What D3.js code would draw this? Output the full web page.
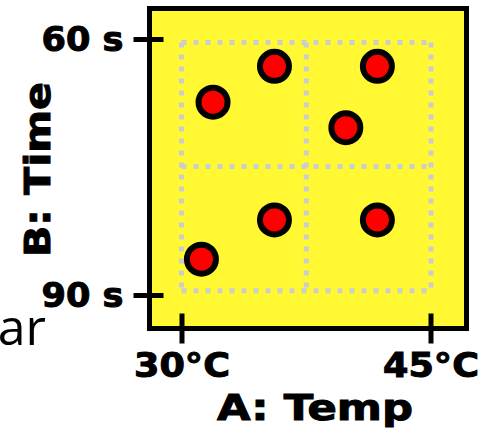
<!DOCTYPE html>
<html>
<head>
<meta charset="utf-8">
<script src="https://cdn.jsdelivr.net/npm/d3@7"></script>
<style>
  body { margin: 0; background: #fff; }
  svg { display: block; }
  .lbl { font-family: "DejaVu Sans", sans-serif; font-weight: bold; fill: #000; stroke: #000; stroke-width: 1px; }
</style>
</head>
<body>
<div id="chart"></div>
<script>
// factor levels and axis labels
const tempLevels = [30, 45];
const tempLabels = ["30°C", "45°C"];
const timeLevels = [60, 90];
const timeLabels = ["60 s", "90 s"];
// coded design grid (-1, 0, +1)
const gridCoded = [-1, 0, 1];
// experimental runs
const runTemp = [31.9, 35.6, 41.8, 39.9, 35.6, 41.8, 31.2];
const runTime = [67.4, 63.2, 63.2, 70.4, 81.2, 81.2, 85.8];

const width = 485, height = 431;
const frame = { left: 149.5, top: 8.5, right: 466.5, bottom: 328.5 };

const svg = d3.select("#chart").append("svg")
  .attr("width", width)
  .attr("height", height);

// --- Scales ---
const x = d3.scaleLinear().domain(d3.extent(tempLevels)).range([181.5, 430.5]);
const y = d3.scaleLinear().domain(d3.extent(timeLevels)).range([39, 295]);
const gx = d3.scaleLinear().domain([-1, 1]).range([181.5, 431]);
const gy = d3.scaleLinear().domain([-1, 1]).range([42.5, 290.7]);

// stray slide text behind the chart
svg.append("text")
  .attr("x", 46).attr("y", 345)
  .attr("text-anchor", "end")
  .style("font-family", "'Open Sans', sans-serif")
  .style("font-size", "50px")
  .style("fill", "#000")
  .text("ar");

// plot frame
svg.append("rect")
  .attr("x", frame.left).attr("y", frame.top)
  .attr("width", frame.right - frame.left)
  .attr("height", frame.bottom - frame.top)
  .attr("fill", "#fff833")
  .attr("stroke", "#000")
  .attr("stroke-width", 5);

// dotted design grid
const grid = svg.append("g")
  .attr("stroke", "#cccccc")
  .attr("stroke-width", 5)
  .attr("stroke-dasharray", "5,7");

grid.selectAll(".gv").data(gridCoded).enter().append("line")
  .attr("class", "gv")
  .attr("x1", d => gx(d)).attr("x2", d => gx(d))
  .attr("y1", gy(-1)).attr("y2", gy(1));

grid.selectAll(".gh").data(gridCoded).enter().append("line")
  .attr("class", "gh")
  .attr("y1", d => gy(d)).attr("y2", d => gy(d))
  .attr("x1", gx(-1)).attr("x2", gx(1));

// --- Axes ---
const yAxis = svg.append("g")
  .attr("transform", `translate(${frame.left},0)`)
  .call(d3.axisLeft(y)
    .tickValues(timeLevels)
    .tickSize(16)
    .tickPadding(10)
    .tickFormat((d, i) => timeLabels[i]));

yAxis.select(".domain").remove();
yAxis.selectAll(".tick line")
  .attr("x1", 14)
  .attr("stroke", "#000")
  .attr("stroke-width", 5);
yAxis.selectAll(".tick text")
  .attr("class", "lbl")
  .attr("dy", "0.36em")
  .style("font-size", "33px")
  .attr("textLength", 82)
  .attr("lengthAdjust", "spacingAndGlyphs");

const xAxis = svg.append("g")
  .attr("transform", `translate(0,${frame.bottom})`)
  .call(d3.axisBottom(x)
    .tickValues(tempLevels)
    .tickSize(15)
    .tickPadding(10.5)
    .tickFormat((d, i) => tempLabels[i]));

xAxis.select(".domain").remove();
xAxis.selectAll(".tick line")
  .attr("y1", -15)
  .attr("stroke", "#000")
  .attr("stroke-width", 5);
xAxis.selectAll(".tick text")
  .attr("class", "lbl")
  .style("font-size", "33px")
  .attr("textLength", 96)
  .attr("lengthAdjust", "spacingAndGlyphs");

// axis titles
svg.append("text")
  .attr("class", "lbl")
  .attr("x", 315).attr("y", 420)
  .attr("text-anchor", "middle")
  .style("font-size", "36px")
  .attr("textLength", 196)
  .attr("lengthAdjust", "spacingAndGlyphs")
  .text("A: Temp");

svg.append("text")
  .attr("class", "lbl")
  .attr("transform", "translate(50,169.5) rotate(-90)")
  .attr("text-anchor", "middle")
  .style("font-size", "36px")
  .attr("textLength", 175)
  .attr("lengthAdjust", "spacingAndGlyphs")
  .text("B: Time");

// --- Runs ---
svg.append("g").selectAll("circle")
  .data(runTemp.map((t, i) => ({ temp: t, time: runTime[i] })))
  .enter().append("circle")
  .attr("cx", d => x(d.temp))
  .attr("cy", d => y(d.time))
  .attr("r", 14.5)
  .attr("fill", "#ff0000")
  .attr("stroke", "#000")
  .attr("stroke-width", 6);
</script>
</body>
</html>
